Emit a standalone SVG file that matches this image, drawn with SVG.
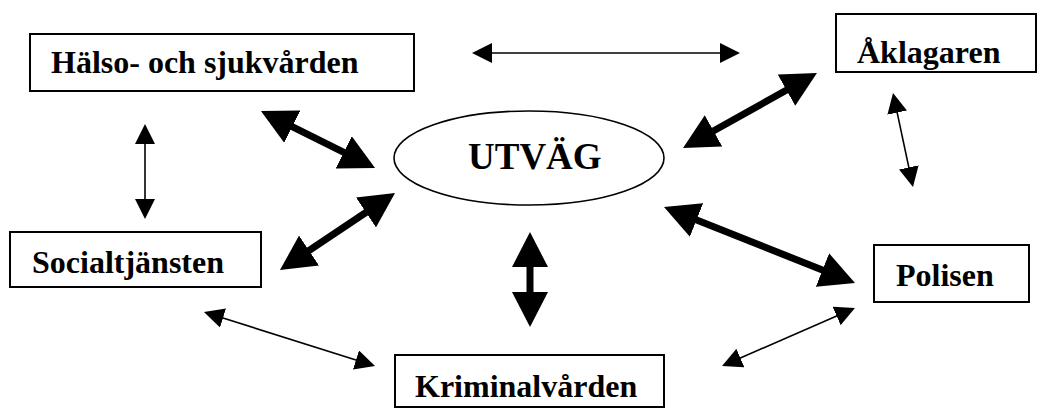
<svg xmlns="http://www.w3.org/2000/svg" width="1040" height="408" viewBox="0 0 1040 408">
<style>
.box{fill:#fff;stroke:#000;stroke-width:2}
.lbl{font-family:"Liberation Serif","Times New Roman",serif;font-weight:bold;font-size:32px;fill:#000}
.thin{stroke:#000;stroke-width:1.6;fill:none;marker-start:url(#hs);marker-end:url(#hs)}
.thick{stroke:#000;stroke-width:7;fill:none;marker-start:url(#hb);marker-end:url(#hb)}
</style>
<defs>
<marker id="hs" markerUnits="userSpaceOnUse" markerWidth="20" markerHeight="20" refX="10" refY="10" orient="auto-start-reverse"><path d="M0,0 L20,10 L0,20 z" fill="#000"/></marker>
<marker id="hb" markerUnits="userSpaceOnUse" markerWidth="35" markerHeight="36" refX="8" refY="18" orient="auto-start-reverse"><path d="M0,0 L35,18 L0,36 z" fill="#000"/></marker>
</defs>
<rect width="1040" height="408" fill="#fff"/>
<g id="connectors">
<line class="thin" x1="482" y1="53" x2="730" y2="53"/>
<line class="thin" x1="145" y1="134" x2="145" y2="209"/>
<line class="thick" x1="285.1" y1="123.1" x2="350.9" y2="155.9"/>
<line class="thick" x1="706.6" y1="134.8" x2="793.4" y2="86.2"/>
<line class="thin" x1="895.1" y1="102.8" x2="910.9" y2="177.2"/>
<line class="thick" x1="302.4" y1="255" x2="372.6" y2="208"/>
<line class="thick" x1="530" y1="259" x2="530" y2="300"/>
<line class="thick" x1="689.1" y1="217" x2="829.9" y2="273"/>
<line class="thin" x1="213.5" y1="315" x2="365.5" y2="363"/>
<line class="thin" x1="731.2" y1="362" x2="845.8" y2="312"/>
</g>
<g id="halso"><rect class="box" x="30" y="34" width="384" height="57"/><text class="lbl" x="51" y="73">Hälso- och sjukvården</text></g>
<g id="aklagaren"><rect class="box" x="836" y="14" width="200" height="58"/><text class="lbl" x="857" y="63">Åklagaren</text></g>
<g id="utvag"><ellipse cx="529" cy="158" rx="135" ry="47" fill="#fff" stroke="#000" stroke-width="1.6"/><text class="lbl" style="font-size:37px" x="468" y="169">UTVÄG</text></g>
<g id="social"><rect class="box" x="10" y="232" width="251" height="55"/><text class="lbl" x="32" y="273">Socialtjänsten</text></g>
<g id="polisen"><rect class="box" x="874" y="245" width="155" height="57"/><text class="lbl" x="896" y="286">Polisen</text></g>
<g id="kriminal"><rect class="box" x="395" y="355" width="269" height="52"/><text class="lbl" x="415" y="397">Kriminalvården</text></g>
</svg>
